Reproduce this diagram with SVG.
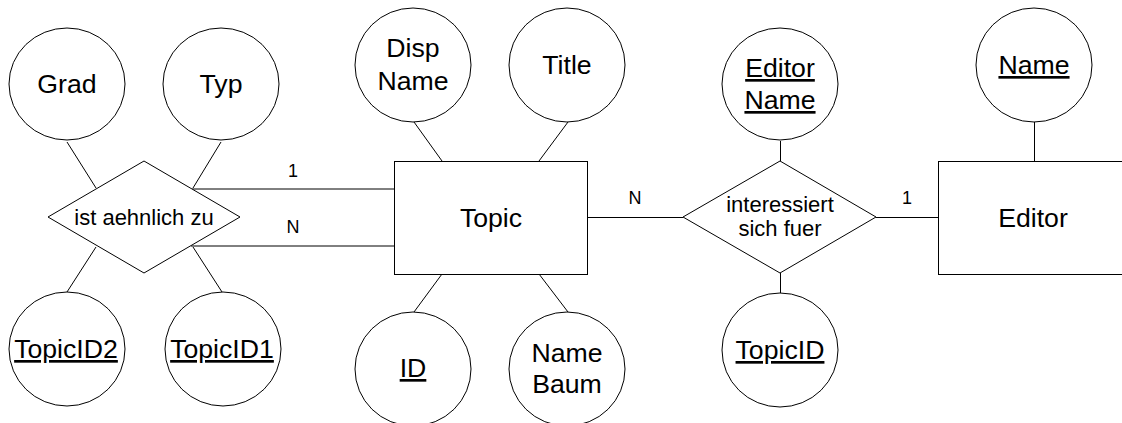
<svg xmlns="http://www.w3.org/2000/svg" width="1122" height="423" viewBox="0 0 1122 423">
  <style>
    .shape { fill: #ffffff; stroke: #000000; stroke-width: 1; }
    .edge { fill: none; stroke: #000000; stroke-width: 1; }
    text { font-family: "Liberation Sans", Arial, sans-serif; fill: #000000; text-anchor: middle; }
    .attr { font-size: 26.67px; }
    .ent { font-size: 26.67px; }
    .rel { font-size: 22px; }
    .card { font-size: 18px; }
    .key { text-decoration: underline; }
  </style>

  <rect x="0" y="0" width="1122" height="423" fill="#ffffff"/>

  <!-- connectors -->
  <g id="connectors">
    <line class="edge" x1="67" y1="142" x2="96" y2="188"/>
    <line class="edge" x1="221" y1="142" x2="193" y2="188"/>
    <line class="edge" x1="96" y1="247" x2="67" y2="292"/>
    <line class="edge" x1="193" y1="247" x2="222" y2="292"/>
    <line class="edge" x1="192" y1="189" x2="394" y2="189"/>
    <line class="edge" x1="191" y1="246" x2="394" y2="246"/>
    <line class="edge" x1="414" y1="122" x2="442" y2="161"/>
    <line class="edge" x1="568" y1="122" x2="539" y2="161"/>
    <line class="edge" x1="442" y1="274" x2="414" y2="312"/>
    <line class="edge" x1="539" y1="274" x2="568" y2="312"/>
    <line class="edge" x1="587" y1="217.5" x2="683" y2="217.5"/>
    <line class="edge" x1="876" y1="217.5" x2="938" y2="217.5"/>
    <line class="edge" x1="780.5" y1="141" x2="780.5" y2="161"/>
    <line class="edge" x1="780.5" y1="273" x2="780.5" y2="293"/>
    <line class="edge" x1="1034.5" y1="122" x2="1034.5" y2="161"/>
    <text class="card" x="293" y="177">1</text>
    <text class="card" x="293" y="233">N</text>
    <text class="card" x="635" y="204">N</text>
    <text class="card" x="907" y="204">1</text>
  </g>

  <!-- relationship: ist aehnlich zu -->
  <g id="rel-aehnlich">
    <polygon class="shape" points="144,161 240,217 144,273 48,217"/>
    <text class="rel" x="144" y="225">ist aehnlich zu</text>
  </g>

  <!-- relationship: interessiert sich fuer -->
  <g id="rel-interessiert">
    <polygon class="shape" points="780,161 876,217 780,273 683,217"/>
    <text class="rel" x="780" y="212">interessiert</text>
    <text class="rel" x="780" y="236">sich fuer</text>
  </g>

  <!-- entity: Topic -->
  <g id="entity-topic">
    <rect class="shape" x="394.5" y="161.5" width="193" height="113"/>
    <text class="ent" x="491" y="227">Topic</text>
  </g>

  <!-- entity: Editor -->
  <g id="entity-editor">
    <rect class="shape" x="938.5" y="161.5" width="193" height="113"/>
    <text class="ent" x="1033" y="227">Editor</text>
  </g>

  <!-- attributes -->
  <g id="attr-grad">
    <ellipse class="shape" cx="67" cy="84" rx="58" ry="56"/>
    <text class="attr" x="67" y="93">Grad</text>
  </g>
  <g id="attr-typ">
    <ellipse class="shape" cx="221" cy="84" rx="58" ry="56"/>
    <text class="attr" x="221" y="93">Typ</text>
  </g>
  <g id="attr-topicid2">
    <ellipse class="shape" cx="67" cy="349" rx="58" ry="57"/>
    <text class="attr key" x="66" y="358">TopicID2</text>
  </g>
  <g id="attr-topicid1">
    <ellipse class="shape" cx="223" cy="349" rx="58" ry="57"/>
    <text class="attr key" x="222" y="358">TopicID1</text>
  </g>
  <g id="attr-dispname">
    <ellipse class="shape" cx="413" cy="65" rx="58" ry="57"/>
    <text class="attr" x="413" y="57">Disp</text>
    <text class="attr" x="413" y="90">Name</text>
  </g>
  <g id="attr-title">
    <ellipse class="shape" cx="567" cy="65" rx="58" ry="57"/>
    <text class="attr" x="567" y="74">Title</text>
  </g>
  <g id="attr-id">
    <ellipse class="shape" cx="413" cy="369" rx="58" ry="57"/>
    <text class="attr key" x="413" y="377">ID</text>
  </g>
  <g id="attr-namebaum">
    <ellipse class="shape" cx="567" cy="369" rx="58" ry="57"/>
    <text class="attr" x="567" y="362">Name</text>
    <text class="attr" x="567" y="393">Baum</text>
  </g>
  <g id="attr-editorname">
    <ellipse class="shape" cx="780" cy="84" rx="58" ry="56"/>
    <text class="attr key" x="780" y="77">Editor</text>
    <text class="attr key" x="780" y="109">Name</text>
  </g>
  <g id="attr-topicid">
    <ellipse class="shape" cx="780" cy="350" rx="58" ry="57"/>
    <text class="attr key" x="780" y="359">TopicID</text>
  </g>
  <g id="attr-name">
    <ellipse class="shape" cx="1034" cy="65" rx="58" ry="57"/>
    <text class="attr key" x="1034" y="74">Name</text>
  </g>
</svg>
